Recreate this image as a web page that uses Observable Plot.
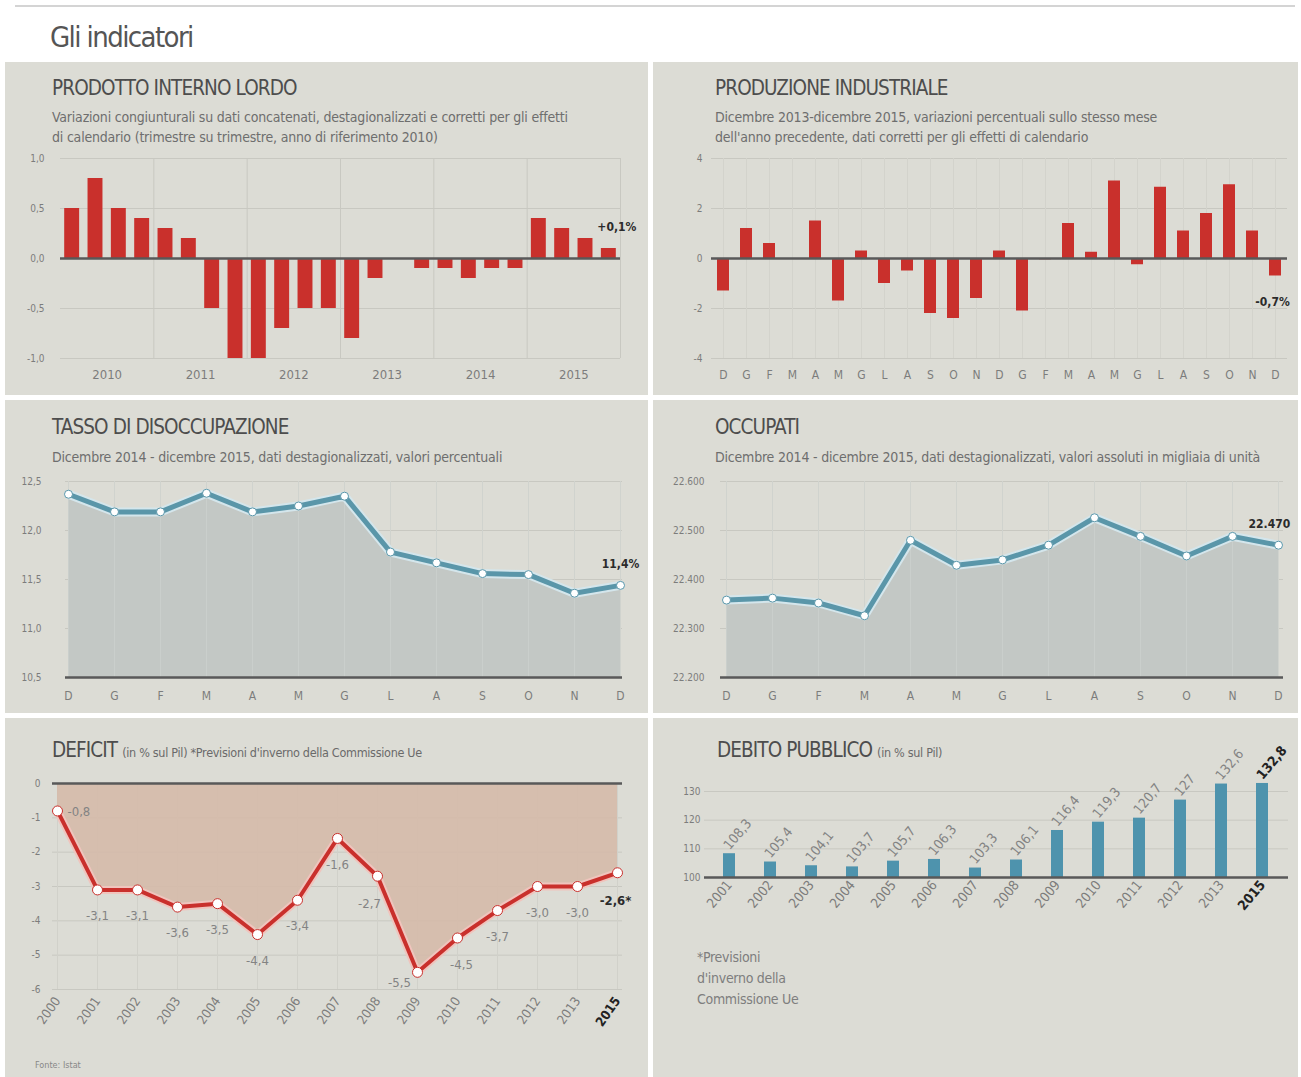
<!DOCTYPE html>
<html><head><meta charset="utf-8">
<script src="https://cdn.jsdelivr.net/npm/d3@7"></script>
<script src="https://cdn.jsdelivr.net/npm/@observablehq/plot@0.6"></script>
<style>
body{margin:0;background:#fff;width:1301px;height:1077px;position:relative;overflow:hidden;font-family:"Liberation Sans Narrow","DejaVu Sans Condensed","Roboto",sans-serif;}
.topline{position:absolute;left:15px;top:5px;width:1280px;height:2px;background:#d4d4d4}
.maintitle{position:absolute;left:50px;top:17px;font-size:29px;line-height:40px;color:#555;letter-spacing:-1.6px}
.panel{position:absolute;background:#dcdcd5;overflow:hidden}
.ptitle{position:absolute;font-size:20.5px;line-height:24px;color:#4d4d4d;white-space:nowrap;letter-spacing:-0.9px}
.ptitle small{font-size:12.5px;color:#6a6a6a;letter-spacing:-0.3px}
.psub{position:absolute;font-size:14px;line-height:20px;color:#6e6e6e;white-space:nowrap;letter-spacing:-0.2px}
.panel svg{position:absolute;left:0}
.note{position:absolute;font-size:14px;line-height:21px;color:#7e7e7e;letter-spacing:-0.3px}
.fonte{position:absolute;font-size:9px;color:#888}
</style></head>
<body>
<div class="topline"></div>
<div class="maintitle">Gli indicatori</div>

<div class="panel" id="p1" style="left:5px;top:62px;width:643px;height:333px">
  <div class="ptitle" style="left:47px;top:14px">PRODOTTO INTERNO LORDO</div>
  <div class="psub" style="left:47px;top:45px">Variazioni congiunturali su dati concatenati, destagionalizzati e corretti per gli effetti<br>di calendario (trimestre su trimestre, anno di riferimento 2010)</div>
</div>
<div class="panel" id="p2" style="left:653px;top:62px;width:645px;height:333px">
  <div class="ptitle" style="left:62px;top:14px">PRODUZIONE INDUSTRIALE</div>
  <div class="psub" style="left:62px;top:45px">Dicembre 2013-dicembre 2015, variazioni percentuali sullo stesso mese<br>dell'anno precedente, dati corretti per gli effetti di calendario</div>
</div>
<div class="panel" id="p3" style="left:5px;top:400px;width:643px;height:313px">
  <div class="ptitle" style="left:47px;top:15px">TASSO DI DISOCCUPAZIONE</div>
  <div class="psub" style="left:47px;top:47px">Dicembre 2014 - dicembre 2015, dati destagionalizzati, valori percentuali</div>
</div>
<div class="panel" id="p4" style="left:653px;top:400px;width:645px;height:313px">
  <div class="ptitle" style="left:62px;top:15px">OCCUPATI</div>
  <div class="psub" style="left:62px;top:47px">Dicembre 2014 - dicembre 2015, dati destagionalizzati, valori assoluti in migliaia di unità</div>
</div>
<div class="panel" id="p5" style="left:5px;top:718px;width:643px;height:359px">
  <div class="ptitle" style="left:47px;top:20px">DEFICIT <small>(in % sul Pil) *Previsioni d'inverno della Commissione Ue</small></div>
  <div class="fonte" style="left:30px;top:342px">Fonte: Istat</div>
</div>
<div class="panel" id="p6" style="left:653px;top:718px;width:645px;height:359px">
  <div class="ptitle" style="left:64px;top:20px">DEBITO PUBBLICO <small>(in % sul Pil)</small></div>
  <div class="note" style="left:44px;top:229px">*Previsioni<br>d'inverno della<br>Commissione Ue</div>
</div>

<script>
// ---------- DATA ----------
const pilYears = [2010, 2011, 2012, 2013, 2014, 2015];
const pilValues = [0.5, 0.8, 0.5, 0.4, 0.3, 0.2, -0.5, -1.0, -1.0, -0.7, -0.5, -0.5, -0.8, -0.2, 0.0, -0.1, -0.1, -0.2, -0.1, -0.1, 0.4, 0.3, 0.2, 0.1];

const prodMonths = ["D","G","F","M","A","M","G","L","A","S","O","N","D","G","F","M","A","M","G","L","A","S","O","N","D"];
const prodValues = [-1.3, 1.2, 0.6, 0.0, 1.5, -1.7, 0.3, -1.0, -0.5, -2.2, -2.4, -1.6, 0.3, -2.1, -0.05, 1.4, 0.25, 3.1, -0.25, 2.85, 1.1, 1.8, 2.95, 1.1, -0.7];

const monthLabels = ["D","G","F","M","A","M","G","L","A","S","O","N","D"];
const tassoValues = [12.37, 12.19, 12.19, 12.38, 12.19, 12.25, 12.35, 11.78, 11.67, 11.56, 11.55, 11.36, 11.44];
const occupatiValues = [22358, 22362, 22352, 22326, 22480, 22429, 22440, 22470, 22526, 22488, 22448, 22488, 22470];

const defYears = ["2000","2001","2002","2003","2004","2005","2006","2007","2008","2009","2010","2011","2012","2013","2015"];
const defValues = [-0.8, -3.1, -3.1, -3.6, -3.5, -4.4, -3.4, -1.6, -2.7, -5.5, -4.5, -3.7, -3.0, -3.0, -2.6];

const debYears = ["2001","2002","2003","2004","2005","2006","2007","2008","2009","2010","2011","2012","2013","2015"];
const debValues = [108.3, 105.4, 104.1, 103.7, 105.7, 106.3, 103.3, 106.1, 116.4, 119.3, 120.7, 127, 132.6, 132.8];

// ---------- STYLE ----------
const font = '"Liberation Sans Narrow","DejaVu Sans Condensed","Roboto",sans-serif';
const baseStyle = {background: "transparent", fontFamily: font, fontSize: "10px", color: "#7c7c7c", overflow: "visible"};
const red = "#c9302c";
const teal = "#5a96a9";
const grid = "#c8c8c1";
const dark = "#595959";
const fmt1 = d => d3.format(".1f")(d).replace(".", ",").replace("\u2212", "-");
const fmtNum = d => String(d).replace(".", ",");
const mount = (id, svg, top) => { svg.style.top = top + "px"; document.getElementById(id).appendChild(svg); };

// ---------- 1. PIL ----------
const pilData = pilValues.map((v, i) => ({t: pilYears[0] + i / 4, v}));
mount("p1", Plot.plot({
  width: 643, height: 243, marginLeft: 55, marginRight: 28, marginTop: 11, marginBottom: 32,
  style: baseStyle,
  x: {domain: [2010, 2016]},
  y: {domain: [-1, 1]},
  marks: [
    Plot.ruleY([-1, -0.5, 0.5, 1], {stroke: grid}),
    Plot.ruleX(pilYears.slice(1).concat([2016]), {stroke: grid}),
    Plot.rect(pilData, {x1: d => d.t + 0.045, x2: d => d.t + 0.205, y1: d => 0, y2: "v", fill: red}),
    Plot.ruleY([0], {stroke: dark, strokeWidth: 2.5}),
    Plot.text(pilData.slice(-1), {x: d => d.t + 0.125, y: "v", text: d => "+" + fmt1(d.v) + "%", dy: -21, dx: 8, fontWeight: "bold", fill: "#2b2b2b", fontSize: 12}),
    Plot.axisY({ticks: [-1, -0.5, 0, 0.5, 1], tickFormat: fmt1, tickSize: 0, tickPadding: 16, label: null}),
    Plot.axisX({ticks: pilYears.map(y => y + 0.5), tickFormat: d => String(Math.floor(d)), tickSize: 0, tickPadding: 11, fontSize: 13, label: null})
  ]
}), 85);

// ---------- 2. PRODUZIONE ----------
const prodData = prodValues.map((v, i) => ({i, v}));
mount("p2", Plot.plot({
  width: 645, height: 243, marginLeft: 58, marginRight: 11, marginTop: 11, marginBottom: 32,
  style: baseStyle,
  x: {type: "band", domain: d3.range(prodMonths.length), paddingInner: 0.5, paddingOuter: 0.25},
  y: {domain: [-4, 4]},
  marks: [
    Plot.ruleY([-4, -2, 2, 4], {stroke: grid}),
    Plot.ruleX(prodData, {x: "i", stroke: "#d3d3cc"}),
    Plot.rect(prodData, {x: "i", y1: d => 0, y2: "v", fill: red}),
    Plot.ruleY([0], {stroke: dark, strokeWidth: 2.5}),
    Plot.text(prodData.slice(-1), {x: "i", y: "v", text: d => fmt1(d.v) + "%", dy: 26, dx: -3, fontWeight: "bold", fill: "#2b2b2b", fontSize: 12}),
    Plot.axisY({ticks: [-4, -2, 0, 2, 4], tickFormat: d => String(d).replace("\u2212", "-"), tickSize: 0, tickPadding: 9, label: null}),
    Plot.axisX({tickFormat: i => prodMonths[i], tickSize: 0, tickPadding: 12, fontSize: 12, label: null})
  ]
}), 85);

// ---------- 3. TASSO ----------
const tassoData = tassoValues.map((v, i) => ({i, v}));
mount("p3", Plot.plot({
  width: 643, height: 235, marginLeft: 60, marginRight: 26, marginTop: 11, marginBottom: 28,
  style: baseStyle,
  x: {type: "point", domain: d3.range(monthLabels.length), padding: 0},
  y: {domain: [10.5, 12.5]},
  marks: [
    Plot.ruleY([11, 11.5, 12, 12.5], {stroke: grid}),
    Plot.ruleX(tassoData, {x: "i", stroke: "#d2d2cb"}),
    Plot.areaY(tassoData, {x: "i", y1: d => 10.5, y2: "v", fill: "#c3c8c5"}),
    Plot.ruleX(tassoData, {x: "i", stroke: "#cfd3d0", strokeOpacity: 0.6}),
    Plot.lineY(tassoData, {x: "i", y: "v", stroke: "#d4e6ec", strokeWidth: 9}),
    Plot.lineY(tassoData, {x: "i", y: "v", stroke: teal, strokeWidth: 5}),
    Plot.dot(tassoData, {x: "i", y: "v", r: 4, fill: "#fff", stroke: teal, strokeWidth: 1}),
    Plot.ruleY([10.5], {stroke: dark, strokeWidth: 2.5}),
    Plot.text(tassoData.slice(-1), {x: "i", y: "v", text: d => fmt1(d.v) + "%", dy: -21, dx: 0, fontWeight: "bold", fill: "#2b2b2b", fontSize: 12}),
    Plot.axisY({ticks: [10.5, 11, 11.5, 12, 12.5], tickFormat: fmt1, tickSize: 0, tickPadding: 24, label: null}),
    Plot.axisX({tickFormat: i => monthLabels[i], tickSize: 0, tickPadding: 14, fontSize: 12, label: null})
  ]
}), 70);

// ---------- 4. OCCUPATI ----------
const occData = occupatiValues.map((v, i) => ({i, v}));
const fmtThousands = d => d3.format(",")(d).replace(",", ".");
mount("p4", Plot.plot({
  width: 645, height: 235, marginLeft: 67, marginRight: 15, marginTop: 11, marginBottom: 28,
  style: baseStyle,
  x: {type: "point", domain: d3.range(monthLabels.length), padding: 0},
  y: {domain: [22200, 22600]},
  marks: [
    Plot.ruleY([22300, 22400, 22500, 22600], {stroke: grid}),
    Plot.ruleX(occData, {x: "i", stroke: "#d2d2cb"}),
    Plot.areaY(occData, {x: "i", y1: d => 22200, y2: "v", fill: "#c3c8c5"}),
    Plot.ruleX(occData, {x: "i", stroke: "#cfd3d0", strokeOpacity: 0.6}),
    Plot.lineY(occData, {x: "i", y: "v", stroke: "#d4e6ec", strokeWidth: 9}),
    Plot.lineY(occData, {x: "i", y: "v", stroke: teal, strokeWidth: 5}),
    Plot.dot(occData, {x: "i", y: "v", r: 4, fill: "#fff", stroke: teal, strokeWidth: 1}),
    Plot.ruleY([22200], {stroke: dark, strokeWidth: 2.5}),
    Plot.text(occData.slice(-1), {x: "i", y: "v", text: d => fmtThousands(d.v), dy: -21, dx: -30, textAnchor: "start", fontWeight: "bold", fill: "#2b2b2b", fontSize: 12}),
    Plot.axisY({ticks: [22200, 22300, 22400, 22500, 22600], tickFormat: fmtThousands, tickSize: 0, tickPadding: 16, label: null}),
    Plot.axisX({tickFormat: i => monthLabels[i], tickSize: 0, tickPadding: 14, fontSize: 12, label: null})
  ]
}), 70);

// ---------- 5. DEFICIT ----------
const defData = defValues.map((v, i) => ({year: defYears[i], v}));
const defLbl = {x: "year", y: "v", text: d => fmt1(d.v), fill: "#838383", fontSize: 13};
const special = ["2000", "2008", "2009", "2010", "2015"];
mount("p5", Plot.plot({
  width: 643, height: 279, marginLeft: 47, marginRight: 26, marginTop: 13, marginBottom: 60,
  style: baseStyle,
  x: {type: "point", domain: defYears, padding: 0},
  y: {domain: [-6, 0]},
  marks: [
    Plot.ruleY([-1, -2, -3, -4, -5, -6], {stroke: grid}),
    Plot.ruleX(defYears, {stroke: "#d1d1ca"}),
    Plot.areaY(defData, {x: "year", y1: d => 0, y2: "v", fill: "#d5baa9", fillOpacity: 0.88}),
    Plot.lineY(defData, {x: "year", y: "v", stroke: "#f0c4bd", strokeWidth: 8}),
    Plot.lineY(defData, {x: "year", y: "v", stroke: red, strokeWidth: 4}),
    Plot.dot(defData, {x: "year", y: "v", r: 5, fill: "#fff", stroke: red, strokeWidth: 1}),
    Plot.ruleY([0], {stroke: dark, strokeWidth: 2.5}),
    Plot.text(defData.filter(d => !special.includes(d.year)), {...defLbl, dy: 26}),
    Plot.text(defData.filter(d => d.year === "2000"), {...defLbl, dx: 10, dy: 1, textAnchor: "start"}),
    Plot.text(defData.filter(d => d.year === "2008"), {...defLbl, dx: -8, dy: 28}),
    Plot.text(defData.filter(d => d.year === "2009"), {...defLbl, dx: -18, dy: 10}),
    Plot.text(defData.filter(d => d.year === "2010"), {...defLbl, dx: 4, dy: 27}),
    Plot.text(defData.filter(d => d.year === "2015"), {...defLbl, text: d => fmt1(d.v) + "*", dx: -2, dy: 28, fontWeight: "bold", fill: "#2b2b2b"}),
    Plot.axisY({ticks: [0, -1, -2, -3, -4, -5, -6], tickFormat: d => String(d).replace("\u2212", "-"), tickSize: 0, tickPadding: 12, label: null}),
    Plot.axisX({ticks: defYears.slice(0, -1), tickRotate: -55, tickSize: 0, tickPadding: 9, fontSize: 13, label: null}),
    Plot.axisX({ticks: defYears.slice(-1), tickRotate: -55, tickSize: 0, tickPadding: 9, fontSize: 13, fontWeight: "bold", color: "#222", label: null})
  ]
}), 52);

// ---------- 6. DEBITO ----------
const debData = debValues.map((v, i) => ({year: debYears[i], v}));
const debLbl = {x: "year", y: "v", text: d => fmtNum(d.v), rotate: -50, textAnchor: "start", dx: -3, dy: -6, fontSize: 13.5, fill: "#838383"};
mount("p6", Plot.plot({
  width: 645, height: 200, marginLeft: 51, marginRight: 10, marginTop: 61, marginBottom: 53,
  style: baseStyle,
  x: {type: "band", domain: debYears, paddingInner: 0.7, paddingOuter: 0.35},
  y: {domain: [100, 130]},
  marks: [
    Plot.ruleY([110, 120, 130], {stroke: grid}),
    Plot.rect(debData, {x: "year", y1: d => 100, y2: "v", fill: "#4e93ad"}),
    Plot.ruleY([100], {stroke: dark, strokeWidth: 2.5}),
    Plot.text(debData.slice(0, -1), debLbl),
    Plot.text(debData.slice(-1), {...debLbl, fontWeight: "bold", fill: "#222"}),
    Plot.axisY({ticks: [100, 110, 120, 130], tickSize: 0, tickPadding: 4, label: null}),
    Plot.axisX({ticks: debYears.slice(0, -1), tickRotate: -50, tickSize: 0, tickPadding: 5, fontSize: 13.5, label: null}),
    Plot.axisX({ticks: debYears.slice(-1), tickRotate: -50, tickSize: 0, tickPadding: 5, fontSize: 13.5, fontWeight: "bold", color: "#222", label: null})
  ]
}), 12);
</script>
</body></html>
